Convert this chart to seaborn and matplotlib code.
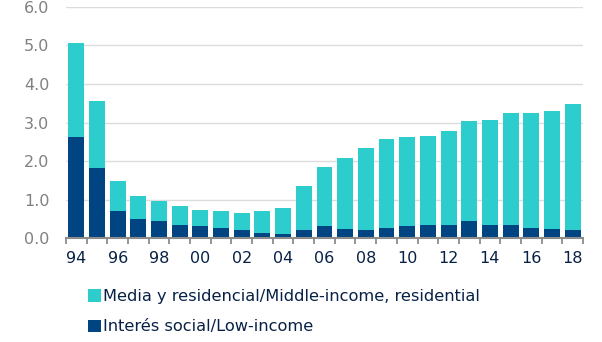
import numpy as np
import pandas as pd
import matplotlib
matplotlib.use("Agg")
import matplotlib.pyplot as plt
import seaborn as sns
from matplotlib.patches import Patch

years = ["94", "95", "96", "97", "98", "99", "00", "01", "02", "03", "04", "05", "06",
         "07", "08", "09", "10", "11", "12", "13", "14", "15", "16", "17", "18"]
low_income = [2.63, 1.83, 0.72, 0.51, 0.45, 0.34, 0.31, 0.27, 0.21, 0.15, 0.11, 0.21, 0.31,
              0.25, 0.21, 0.27, 0.31, 0.34, 0.34, 0.46, 0.34, 0.34, 0.27, 0.25, 0.21]
middle_income = [2.44, 1.73, 0.76, 0.58, 0.53, 0.49, 0.42, 0.43, 0.45, 0.55, 0.68, 1.14, 1.54,
                 1.83, 2.14, 2.30, 2.31, 2.31, 2.43, 2.57, 2.73, 2.90, 2.97, 3.05, 3.26]
labels = ["Media y residencial/Middle-income, residential", "Interés social/Low-income"]
yticks = [0.0, 1.0, 2.0, 3.0, 4.0, 5.0, 6.0]

CYAN = "#2DCCCD"
NAVY = "#004481"
TEXT = "#072146"
GRAY = "#808080"

sns.set_theme(style="white")
plt.rcParams["font.family"] = ["DejaVu Sans"]

df = pd.DataFrame({"year": years, "low": low_income, "mid": middle_income})
df["total"] = df["low"] + df["mid"]

fig = plt.figure(figsize=(6.02, 3.42), dpi=100)
ax = fig.add_axes([0.1096, 0.303, 0.8588, 0.677])

sns.barplot(data=df, x="year", y="total", color=CYAN, saturation=1, width=0.77, ax=ax,
            linewidth=0)
sns.barplot(data=df, x="year", y="low", color=NAVY, saturation=1, width=0.77, ax=ax,
            linewidth=0)

ax.set_xlim(-0.48, len(years) - 0.55)
ax.set_ylim(0, 6)
ax.set_yticks(yticks)
ax.set_yticklabels([f"{v:.1f}" for v in yticks], color=GRAY, fontsize=11.5)
ax.yaxis.grid(True, color="#dcdcdc", linewidth=1)
ax.set_axisbelow(True)
ax.tick_params(axis="y", length=0, pad=12)

pos = np.arange(len(years))
ax.set_xticks(pos[::2])
ax.set_xticklabels(years[::2], color=TEXT, fontsize=11.5)
ax.set_xticks(np.arange(-0.5, len(years), 1.0), minor=True)
ax.tick_params(axis="x", which="major", length=0, pad=9)
ax.tick_params(axis="x", which="minor", length=4, width=1.3, color="#8c8c8c", direction="out",
               bottom=True)
ax.set_xlabel("")
ax.set_ylabel("")
for s in ["top", "right", "left"]:
    ax.spines[s].set_visible(False)
ax.spines["bottom"].set_color("#8c8c8c")
ax.spines["bottom"].set_linewidth(1.5)

handles = [Patch(facecolor=CYAN, edgecolor="none"), Patch(facecolor=NAVY, edgecolor="none")]
leg = fig.legend(handles, labels, loc="upper left", bbox_to_anchor=(0.135, 0.174),
                 frameon=False, fontsize=11.7, handlelength=0.8, handleheight=0.8,
                 handletextpad=0.15, labelspacing=0.95, borderaxespad=0)
for t in leg.get_texts():
    t.set_color(TEXT)

fig.savefig("out.png", dpi=100)
